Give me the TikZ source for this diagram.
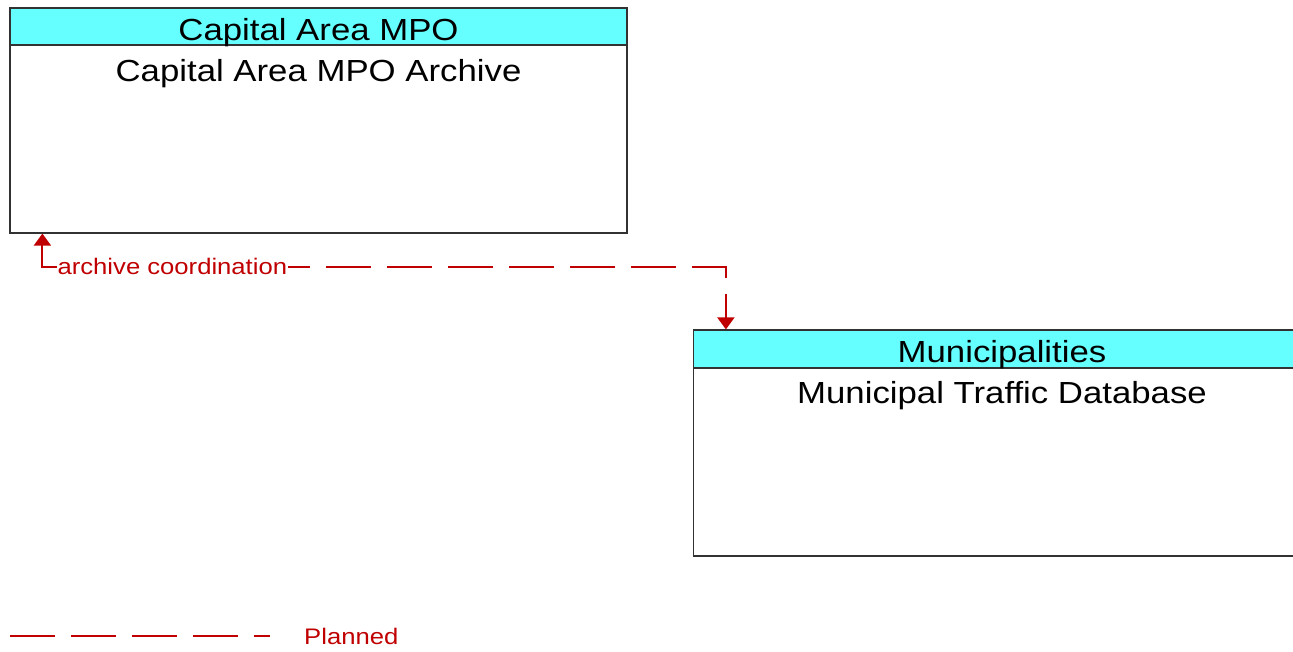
\documentclass[tikz,border=0pt]{standalone}
\usepackage{fontspec}
\setmainfont[FakeStretch=1.14]{Liberation Sans}
\usetikzlibrary{arrows.meta}
\definecolor{hdr}{RGB}{102,255,255}
\definecolor{flow}{RGB}{192,0,0}
\definecolor{edge}{RGB}{50,50,50}
\begin{document}
\begin{tikzpicture}[x=1pt,y=-1pt,
  element/.style={draw=edge,line width=1.2pt,fill=white,minimum width=617pt,minimum height=225pt,inner sep=0pt},
  header/.style={draw=edge,line width=1.2pt,fill=hdr,minimum width=617pt,minimum height=37pt,inner sep=0pt},
  htext/.style={font=\fontsize{30.5}{34}\selectfont,anchor=base,inner sep=0pt},
  planned/.style={draw=flow,line width=2pt,dash pattern=on 45pt off 16pt},
  flowlabel/.style={font=\fontsize{22.5}{26}\selectfont,text=flow,fill=white,inner xsep=1pt,inner ysep=2pt,anchor=west},
  tips/.style={{Triangle[width=17pt,length=12pt]}-{Triangle[width=17pt,length=12pt]}}
]
\clip (0,0) rectangle (1293,651);
\useasboundingbox (0,0) rectangle (1293,651);
% Capital Area MPO
\node[element] (mpo) at (318.5,120.5) {};
\node[header] (mpoh) at (318.5,26.5) {};
\node[htext] (mpoht) at (318.5,40) {Capital Area MPO};
\node[htext] (mpot) at (318.5,81) {Capital Area MPO Archive};
% Municipalities
\node[element,minimum height=226pt] (muni) at (1002,443) {};
\node[header,minimum height=38pt] (munih) at (1002,349) {};
\node[htext] (muniht) at (1002,362) {Municipalities};
\node[htext] (munit) at (1002,403) {Municipal Traffic Database};
% flow
\draw[planned,tips] ([xshift=33pt]mpo.south west) -- ++(0,33) coordinate (bend) -| ([xshift=33pt]munih.north west);
\node[flowlabel] (lbl) at ([xshift=14pt]bend) {archive coordination};
% legend
\coordinate (lg1) at (10,636);
\coordinate (lg2) at (270,636);
\draw[planned] (lg1) -- (lg2);
\node[font=\fontsize{22.5}{26}\selectfont,text=flow,anchor=west,inner sep=0pt] (lgt) at (304,636) {Planned};
\end{tikzpicture}
\end{document}
